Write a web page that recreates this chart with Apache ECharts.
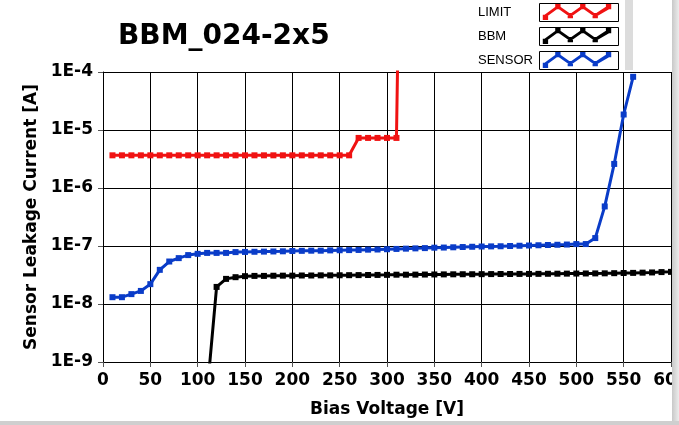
<!DOCTYPE html>
<html>
<head>
<meta charset="utf-8">
<script src="https://cdn.jsdelivr.net/npm/echarts@6/dist/echarts.min.js"></script>
<style>
html,body{margin:0;padding:0;background:#fff;}
#chart{width:679px;height:425px;}
</style>
</head>
<body>
<div id="chart"></div>
<script>
// ---- data ----
var titleText = 'BBM_024-2x5';
var seriesNames = ['LIMIT', 'BBM', 'SENSOR'];
var xTickLabels = ['0','50','100','150','200','250','300','350','400','450','500','550','600'];
var yTickLabels = ['1E-9','1E-8','1E-7','1E-6','1E-5','1E-4'];

var limitVoltage = [10,20,30,40,50,60,70,80,90,100,110,120,130,140,150,160,170,180,190,200,210,220,230,240,250,260,270,280,290,300,310,312];
var limitCurrent = [3.66e-6,3.66e-6,3.66e-6,3.66e-6,3.66e-6,3.66e-6,3.66e-6,3.66e-6,3.66e-6,3.66e-6,3.66e-6,3.66e-6,3.66e-6,3.66e-6,3.66e-6,3.66e-6,3.66e-6,3.66e-6,3.66e-6,3.66e-6,3.66e-6,3.66e-6,3.66e-6,3.66e-6,3.66e-6,3.66e-6,7.3e-6,7.3e-6,7.3e-6,7.3e-6,7.3e-6,1e-3];

var bbmVoltage = [110,120,130,140,150,160,170,180,190,200,210,220,230,240,250,260,270,280,290,300,310,320,330,340,350,360,370,380,390,400,410,420,430,440,450,460,470,480,490,500,510,520,530,540,550,560,570,580,590,600];
var bbmCurrent = [3e-10,1.97e-8,2.71e-8,2.90e-8,3.02e-8,3.05e-8,3.05e-8,3.07e-8,3.08e-8,3.08e-8,3.10e-8,3.10e-8,3.12e-8,3.12e-8,3.13e-8,3.14e-8,3.15e-8,3.16e-8,3.17e-8,3.18e-8,3.20e-8,3.20e-8,3.21e-8,3.22e-8,3.23e-8,3.24e-8,3.25e-8,3.26e-8,3.26e-8,3.27e-8,3.28e-8,3.29e-8,3.29e-8,3.30e-8,3.30e-8,3.31e-8,3.32e-8,3.33e-8,3.34e-8,3.35e-8,3.36e-8,3.37e-8,3.38e-8,3.40e-8,3.42e-8,3.44e-8,3.47e-8,3.50e-8,3.55e-8,3.58e-8];

var sensorVoltage = [10,20,30,40,50,60,70,80,90,100,110,120,130,140,150,160,170,180,190,200,210,220,230,240,250,260,270,280,290,300,310,320,330,340,350,360,370,380,390,400,410,420,430,440,450,460,470,480,490,500,510,520,530,540,550,560];
var sensorCurrent = [1.31e-8,1.31e-8,1.48e-8,1.68e-8,2.20e-8,3.88e-8,5.40e-8,6.18e-8,6.97e-8,7.33e-8,7.6e-8,7.6e-8,7.6e-8,7.85e-8,7.9e-8,7.95e-8,8.0e-8,8.05e-8,8.1e-8,8.2e-8,8.25e-8,8.3e-8,8.3e-8,8.4e-8,8.45e-8,8.5e-8,8.55e-8,8.65e-8,8.7e-8,8.8e-8,8.9e-8,9.0e-8,9.1e-8,9.2e-8,9.35e-8,9.4e-8,9.5e-8,9.6e-8,9.7e-8,9.8e-8,9.85e-8,9.9e-8,1.0e-7,1.01e-7,1.02e-7,1.03e-7,1.04e-7,1.05e-7,1.06e-7,1.08e-7,1.08e-7,1.37e-7,4.81e-7,2.60e-6,1.85e-5,8.26e-5];

var seriesColors = ['#f01212', '#000000', '#0a3cc8'];

function pairs(xs, ys) { return xs.map(function (x, i) { return [x, ys[i]]; }); }

var zigzag = 'path://M2 12L17 1L31 11L45 1L59 11L74 1L76 5L59 15L45 5L31 15L17 5L2 16Z' +
  'M14 0h6v6h-6zM28 10h6v6h-6zM42 0h6v6h-6zM56 10h6v6h-6zM71 0h6v6h-6zM0 12h6v6h-6z';

var chart = echarts.init(document.getElementById('chart'), null, {renderer: 'canvas'});
var FONT = 'DejaVu Sans';

var option = {
  animation: false,
  backgroundColor: '#ffffff',
  title: {
    text: titleText, left: 113, top: 18,
    textStyle: {fontFamily: FONT, fontWeight: 'bold', fontSize: 28, color: '#000'}
  },
  legend: {
    orient: 'vertical', left: 478, top: 4, itemGap: 8, padding: 0,
    align: 'right', selectedMode: false,
    itemWidth: 74, itemHeight: 16,
    formatter: function (name) { return '{t|' + name + '}'; },
    textStyle: {
      fontFamily: 'Liberation Sans', fontSize: 13, color: '#000',
      rich: {t: {width: 57, align: 'left', fontFamily: 'Liberation Sans', fontSize: 13, color: '#000'}}
    },
    data: seriesNames.map(function (n) { return {name: n, icon: zigzag}; })
  },
  grid: {left: 103, right: 8, top: 72, bottom: 63, containLabel: false, outerBoundsMode: 'none'},
  xAxis: {
    type: 'value', min: 0, max: 600, interval: 50,
    name: 'Bias Voltage [V]', nameLocation: 'middle', nameGap: 39,
    nameTextStyle: {fontFamily: FONT, fontWeight: 'bold', fontSize: 17, color: '#000'},
    axisLine: {show: true, lineStyle: {color: '#000', width: 1}},
    axisTick: {show: true, inside: false, length: 5, lineStyle: {color: '#555'}},
    axisLabel: {
      margin: 10, fontFamily: FONT, fontWeight: 'bold', fontSize: 17, color: '#000',
      hideOverlap: false,
      formatter: function (v) { return xTickLabels[Math.round(v / 50)]; }
    },
    splitLine: {show: true, lineStyle: {color: '#000', width: 1}}
  },
  yAxis: {
    type: 'log', logBase: 10, min: 1e-9, max: 1e-4,
    name: 'Sensor Leakage Current [A]', nameLocation: 'middle', nameGap: 63, nameRotate: 90,
    nameTextStyle: {fontFamily: FONT, fontWeight: 'bold', fontSize: 17, color: '#000'},
    axisLine: {show: true, lineStyle: {color: '#000', width: 1}},
    axisTick: {show: true, inside: false, length: 5, lineStyle: {color: '#555'}},
    axisLabel: {
      margin: 10, fontFamily: FONT, fontWeight: 'bold', fontSize: 17, color: '#000',
      formatter: function (v) { var e = Math.round(Math.log10(v)); return yTickLabels[e + 9]; }
    },
    splitLine: {show: true, lineStyle: {color: '#000', width: 1}}
  },
  series: [
    {name: seriesNames[0], type: 'line', data: pairs(limitVoltage, limitCurrent), clip: true,
     symbol: 'rect', symbolSize: 6, showAllSymbol: true,
     lineStyle: {color: seriesColors[0], width: 3}, itemStyle: {color: seriesColors[0]}},
    {name: seriesNames[1], type: 'line', data: pairs(bbmVoltage, bbmCurrent), clip: true,
     symbol: 'rect', symbolSize: 6, showAllSymbol: true,
     lineStyle: {color: seriesColors[1], width: 3}, itemStyle: {color: seriesColors[1]}},
    {name: seriesNames[2], type: 'line', data: pairs(sensorVoltage, sensorCurrent), clip: true,
     symbol: 'rect', symbolSize: 6, showAllSymbol: true,
     lineStyle: {color: seriesColors[2], width: 3}, itemStyle: {color: seriesColors[2]}}
  ],
  graphic: [
    {type: 'rect', shape: {x: 625, y: 0, width: 8, height: 70}, style: {fill: '#dcdcdc'}, z: 1},
    {type: 'rect', shape: {x: 539.5, y: 3.5, width: 79, height: 18}, style: {fill: 'none', stroke: '#000', lineWidth: 1}, z: 10},
    {type: 'rect', shape: {x: 539.5, y: 27.5, width: 79, height: 18}, style: {fill: 'none', stroke: '#000', lineWidth: 1}, z: 10},
    {type: 'rect', shape: {x: 539.5, y: 51.5, width: 79, height: 18}, style: {fill: 'none', stroke: '#000', lineWidth: 1}, z: 10},
    {type: 'rect', shape: {x: 672, y: 0, width: 7, height: 425},
     style: {fill: new echarts.graphic.LinearGradient(0, 0, 1, 0, [{offset: 0, color: '#c8c8c8'}, {offset: 1, color: '#ececec'}])}, z: 20},
    {type: 'rect', shape: {x: 0, y: 421, width: 679, height: 4}, style: {fill: '#cfcfcf'}, z: 20}
  ]
};
chart.setOption(option);
</script>
</body>
</html>
